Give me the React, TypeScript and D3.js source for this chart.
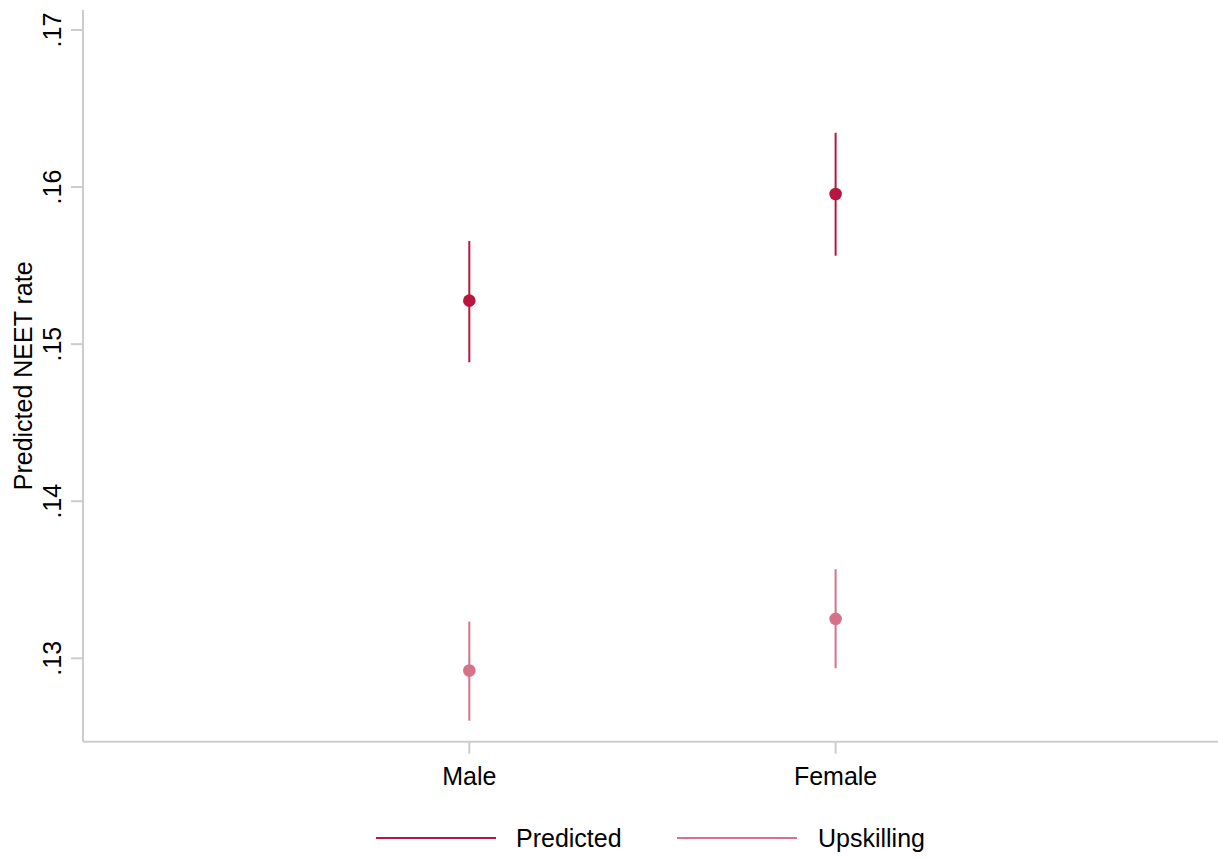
import React from "react";
import * as d3 from "d3";

const categories = ["Male", "Female"];
const seriesNames = ["Predicted", "Upskilling"];
const predicted = [0.15277, 0.15956];
const predictedLo = [0.14885, 0.15563];
const predictedHi = [0.15657, 0.16346];
const upskilling = [0.12922, 0.13251];
const upskillingLo = [0.12603, 0.12937];
const upskillingHi = [0.13234, 0.13567];
const yTicks = [0.13, 0.14, 0.15, 0.16, 0.17];
const yTickLabels = [".13", ".14", ".15", ".16", ".17"];

const W = 1218;
const H = 858;
const colors = ["#B8163F", "#D6718A"];
const axisColor = "#cccccc";
const font = "'Liberation Sans', Arial, sans-serif";

export default function App() {
  const y = d3.scaleLinear().domain([0.13, 0.17]).range([658.3, 30]);
  const x = d3.scaleLinear().domain([1, 2]).range([469.3, 835.6]);
  const axisX = 83;
  const axisTop = 10;
  const axisBottom = 741.7;

  const series = [
    { name: seriesNames[0], est: predicted, lo: predictedLo, hi: predictedHi, color: colors[0] },
    { name: seriesNames[1], est: upskilling, lo: upskillingLo, hi: upskillingHi, color: colors[1] },
  ];

  const legendItems = [
    { x0: 376, x1: 496, tx: 516 },
    { x0: 677, x1: 797, tx: 818 },
  ];

  return (
    <svg
      width={W}
      height={H}
      style={{ position: "absolute", left: 0, top: 0, background: "#fff" }}
      fontFamily={font}
    >
      {/* y axis */}
      <line x1={axisX} x2={axisX} y1={axisTop} y2={axisBottom} stroke={axisColor} strokeWidth={2} />
      {yTicks.map((t, i) => (
        <g key={t}>
          <line x1={axisX - 12} x2={axisX} y1={y(t)} y2={y(t)} stroke={axisColor} strokeWidth={2} />
          <text
            transform={`translate(61,${y(t)}) rotate(-90)`}
            textAnchor="middle"
            fontSize={25}
            fill="#000"
          >
            {yTickLabels[i]}
          </text>
        </g>
      ))}
      <text
        transform={`translate(32,${(axisTop + axisBottom) / 2}) rotate(-90)`}
        textAnchor="middle"
        fontSize={25}
        fill="#000"
      >
        Predicted NEET rate
      </text>

      {/* x axis */}
      <line x1={axisX} x2={W} y1={axisBottom} y2={axisBottom} stroke={axisColor} strokeWidth={2} />
      {categories.map((c, i) => (
        <g key={c}>
          <line x1={x(i + 1)} x2={x(i + 1)} y1={axisBottom} y2={axisBottom + 12} stroke={axisColor} strokeWidth={2} />
          <text x={x(i + 1)} y={785} textAnchor="middle" fontSize={25} fill="#000">
            {c}
          </text>
        </g>
      ))}

      {/* confidence intervals and point estimates */}
      {series.map((s) => (
        <g key={s.name}>
          {categories.map((c, i) => (
            <g key={c}>
              <line
                x1={x(i + 1)}
                x2={x(i + 1)}
                y1={y(s.lo[i])}
                y2={y(s.hi[i])}
                stroke={s.color}
                strokeWidth={2}
              />
              <circle cx={x(i + 1)} cy={y(s.est[i])} r={6.3} fill={s.color} />
            </g>
          ))}
        </g>
      ))}

      {/* legend */}
      {series.map((s, i) => (
        <g key={s.name}>
          <line
            x1={legendItems[i].x0}
            x2={legendItems[i].x1}
            y1={838}
            y2={838}
            stroke={s.color}
            strokeWidth={2}
          />
          <text x={legendItems[i].tx} y={847} fontSize={25} fill="#000">
            {s.name}
          </text>
        </g>
      ))}
    </svg>
  );
}
